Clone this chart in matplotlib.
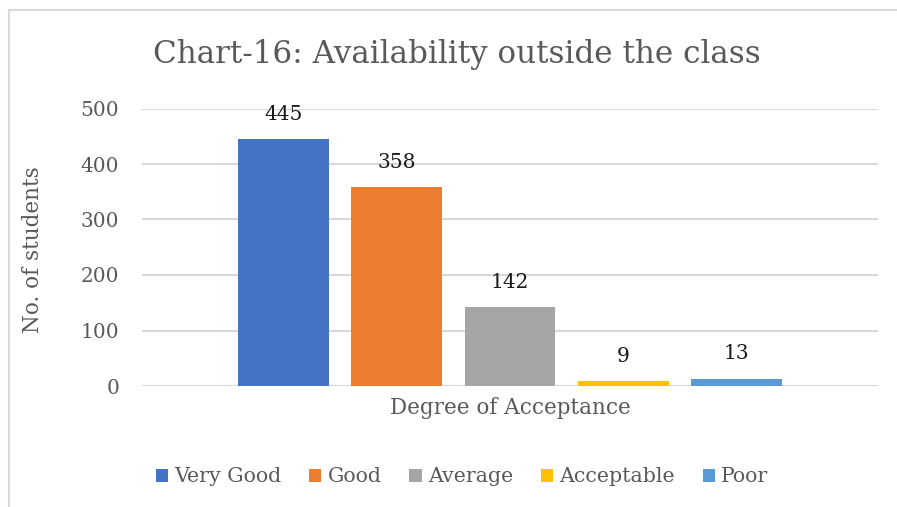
import matplotlib
matplotlib.use("Agg")
from matplotlib import pyplot as plt
from matplotlib.lines import Line2D

categories = ["Very Good", "Good", "Average", "Acceptable", "Poor"]
students = [445, 358, 142, 9, 13]
colors = ["#4472c4", "#ed7d31", "#a5a5a5", "#ffc000", "#5b9bd5"]
y_ticks = [0, 100, 200, 300, 400, 500]

plt.rcParams['font.family'] = ['DejaVu Serif']
W, H = 897, 507
fig = plt.figure(figsize=(W / 100, H / 100), dpi=100)
ax = fig.add_axes([142 / W, (H - 386) / H, (878 - 142) / W, (386 - 108.5) / H])

for i, (cat, val, col) in enumerate(zip(categories, students, colors)):
    ax.bar(i, val, width=0.8, color=col, label=cat, zorder=3)
    ax.annotate(str(val), (i, val), xytext=(0, 18), textcoords="offset points",
                ha="center", va="center", fontsize=14.5, color="#1a1a1a")

ax.set_xlim(-1.25, 5.25)
ax.set_ylim(0, 500)
ax.set_yticks(y_ticks)
ax.set_xticks([])
ax.tick_params(axis="y", length=0, pad=16.5, labelsize=14.5, labelcolor="#595959")
ax.grid(axis="y", color="#d9d9d9", lw=1.5, zorder=0)
for s in ax.spines.values():
    s.set_visible(False)

fig.text(510 / W, 1 - 408 / H, "Degree of Acceptance", ha="center", va="center",
         fontsize=15.5, color="#595959")
fig.text(33 / W, 1 - 250 / H, "No. of students", ha="center", va="center",
         rotation=90, fontsize=15.5, color="#595959")
fig.text(457 / W, 1 - 55 / H, "Chart-16: Availability outside the class", ha="center",
         va="center", fontsize=22.3, color="#595959")

leg = fig.legend(loc="center", bbox_to_anchor=(462 / W, 1 - 477 / H), ncol=5, frameon=False,
                 fontsize=14.8, handlelength=0.6, handleheight=0.6, handletextpad=0.3,
                 columnspacing=1.35)
for t in leg.get_texts():
    t.set_color("#595959")

# chart frame (only top and left edges visible in the crop)
fig.add_artist(Line2D([8.5 / W, 1.0], [1 - 10 / H, 1 - 10 / H], transform=fig.transFigure,
                      color="#d9d9d9", lw=1.5))
fig.add_artist(Line2D([8.5 / W, 8.5 / W], [0, 1 - 10 / H], transform=fig.transFigure,
                      color="#d9d9d9", lw=1.5))

fig.savefig("out.png", dpi=100)
